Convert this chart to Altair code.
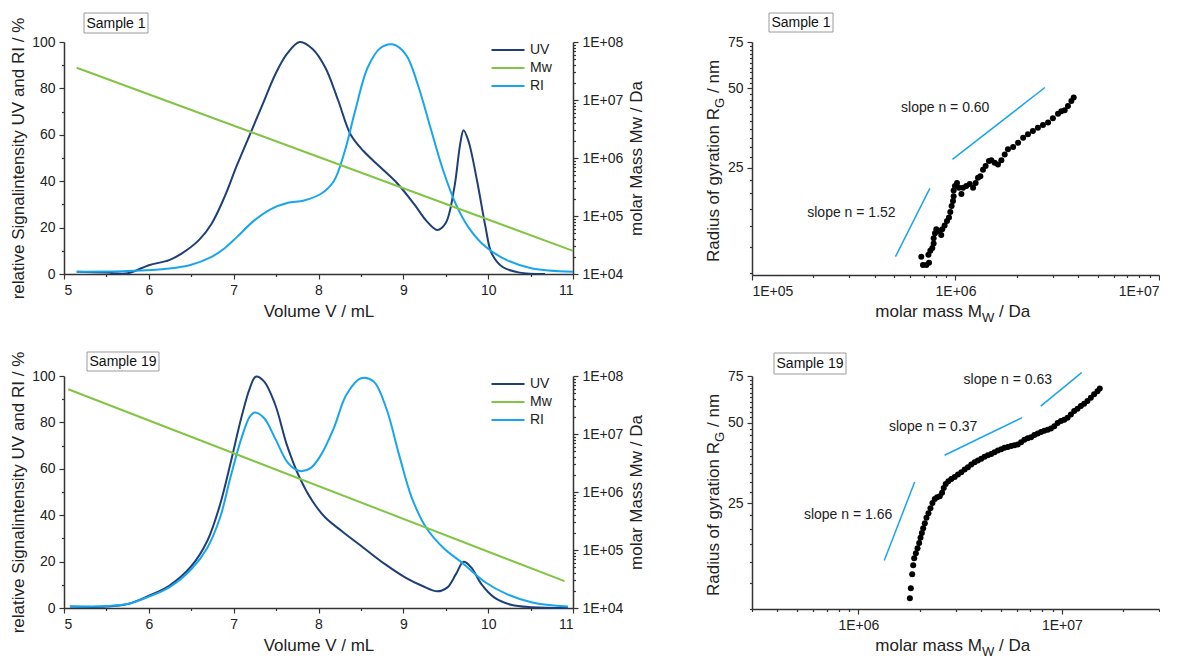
import altair as alt
import pandas as pd

FONT = "Liberation Sans"
UV_C = "#1E3F78"
MW_C = "#80C545"
RI_C = "#19A5EC"
SERIES = ["UV", "Mw", "RI"]
SERIES_COLORS = [UV_C, MW_C, RI_C]

# ---------------- Sample 1 chromatogram ----------------
s1_uv_vol = [5.15, 5.5, 5.75, 6.0, 6.24, 6.39, 6.59, 6.74, 6.89, 7.04, 7.19, 7.34, 7.49, 7.63, 7.78,
             7.93, 8.08, 8.23, 8.38, 8.53, 8.73, 8.93, 9.13, 9.27, 9.40, 9.50, 9.60, 9.67, 9.71, 9.77,
             9.87, 9.97, 10.04, 10.17, 10.37, 10.67]
s1_uv_val = [1.0, 0.6, 0.3, 3.8, 6.0, 8.9, 14.6, 21.7, 33.0, 47.0, 60.0, 73.0, 86.0, 95.0, 100.0,
             97.0, 89.0, 75.0, 60.0, 53.0, 46.0, 39.0, 30.0, 23.0, 19.0, 22.0, 37.0, 56.0, 62.0, 57.0,
             40.0, 20.0, 9.0, 3.0, 0.6, 0.0]
s1_ri_vol = [5.15, 5.75, 6.24, 6.49, 6.74, 6.89, 7.04, 7.24, 7.44, 7.63, 7.83, 8.03, 8.18, 8.31, 8.43,
             8.58, 8.73, 8.87, 9.03, 9.17, 9.32, 9.47, 9.62, 9.77, 9.97, 10.22, 10.52, 11.0]
s1_ri_val = [1.0, 1.3, 2.4, 3.9, 7.4, 11.0, 16.0, 23.0, 28.0, 30.6, 31.7, 34.6, 40.0, 53.0, 70.0,
             89.0, 97.4, 99.0, 94.6, 81.7, 63.0, 44.6, 30.0, 20.0, 11.7, 6.0, 2.4, 1.0]
s1_mw_vol = [5.15, 11.0]
s1_mw_val = [3.6e7, 2.5e4]

# ---------------- Sample 19 chromatogram ----------------
s19_uv_vol = [5.07, 5.5, 5.75, 6.0, 6.24, 6.5, 6.69, 6.84, 6.96, 7.09, 7.19, 7.26, 7.36, 7.49, 7.63,
              7.78, 7.93, 8.08, 8.28, 8.53, 8.78, 9.03, 9.22, 9.40, 9.52, 9.62, 9.71, 9.80, 9.92, 10.07,
              10.27, 10.52, 10.94]
s19_uv_val = [0.6, 0.6, 1.7, 5.3, 9.6, 18.0, 29.0, 44.6, 62.0, 82.0, 94.7, 99.7, 97.6, 87.6, 70.0,
              56.0, 46.0, 39.0, 33.0, 26.0, 19.0, 13.0, 9.6, 7.2, 8.9, 14.6, 19.9, 17.5, 10.3, 4.6,
              1.4, 0.3, 0.0]
s19_ri_vol = [5.07, 5.5, 5.75, 6.0, 6.24, 6.5, 6.69, 6.84, 6.96, 7.09, 7.19, 7.25, 7.36, 7.49, 7.63,
              7.73, 7.81, 7.91, 8.03, 8.18, 8.33, 8.50, 8.65, 8.80, 8.95, 9.10, 9.27, 9.47, 9.71, 9.97,
              10.22, 10.52, 10.94]
s19_ri_val = [0.6, 0.9, 1.7, 4.9, 8.9, 16.7, 26.0, 39.0, 56.0, 73.0, 82.5, 84.3, 81.8, 73.0, 63.0,
              59.7, 59.0, 60.4, 66.0, 77.5, 92.0, 99.0, 97.6, 86.0, 66.0, 47.5, 34.6, 26.0, 19.0, 11.0,
              6.0, 2.4, 0.6]
s19_mw_vol = [5.05, 10.9]
s19_mw_val = [5.9e7, 2.9e4]

# ---------------- Conformation plots (Rg vs Mw) ----------------
s1_pts_mw = [6.79e5, 6.92e5, 7.19e5, 7.41e5, 7.36e5, 7.52e5, 7.69e5, 7.81e5, 7.81e5, 7.93e5, 8.05e5,
             8.29e5, 8.51e5, 8.61e5, 8.84e5, 9.08e5, 9.29e5, 9.43e5, 9.57e5, 9.72e5, 9.79e5, 9.79e5,
             9.94e5, 1.017e6, 1.040e6, 1.069e6, 1.089e6, 1.13e6, 1.175e6, 1.22e6, 1.256e6, 1.29e6,
             1.325e6, 1.365e6, 1.406e6, 1.46e6, 1.50e6, 1.557e6, 1.617e6, 1.68e6, 1.745e6, 1.81e6,
             1.92e6, 2.03e6, 2.15e6, 2.27e6, 2.40e6, 2.54e6, 2.69e6, 2.85e6, 3.01e6, 3.19e6, 3.31e6,
             3.44e6, 3.57e6, 3.71e6, 3.81e6]
s1_pts_rg = [11.5, 10.7, 10.7, 10.9, 11.7, 12.1, 12.4, 12.9, 13.5, 14.1, 14.6,
             14.4, 13.9, 14.6, 15.1, 15.7, 16.2, 17.0, 17.9, 18.7, 19.5, 20.5,
             21.3, 21.9, 21.0, 19.9, 21.0, 21.3, 21.7, 21.0, 21.9, 22.9,
             23.2, 24.6, 25.4, 26.5, 26.7, 26.1, 25.7, 26.7, 28.1, 29.4,
             30.0, 31.1, 32.5, 33.5, 34.5, 35.5, 36.3, 37.1, 38.5, 40.1, 41.0,
             41.3, 42.9, 44.8, 46.2]
s1_slope_seg = ["a", "a", "b", "b"]
s1_slope_mw = [5.07e5, 7.48e5, 9.66e5, 2.75e6]
s1_slope_rg = [11.5, 20.9, 26.9, 50.4]
s1_note_text = ["slope n = 0.60", "slope n = 1.52"]
s1_note_mw = [8.9e5, 3.08e5]
s1_note_rg = [42.0, 16.8]

s19_pts_mw = [1.790e6, 1.810e6, 1.838e6, 1.859e6, 1.880e6, 1.916e6, 1.952e6, 1.989e6, 2.019e6, 2.050e6,
              2.081e6, 2.120e6, 2.160e6, 2.209e6, 2.259e6, 2.311e6, 2.372e6, 2.436e6, 2.510e6, 2.577e6,
              2.626e6, 2.685e6, 2.767e6, 2.862e6, 2.972e6, 3.085e6, 3.204e6, 3.327e6, 3.454e6, 3.586e6,
              3.724e6, 3.866e6, 4.014e6, 4.168e6, 4.328e6, 4.493e6, 4.665e6, 4.844e6, 5.029e6, 5.222e6,
              5.422e6, 5.629e6, 5.845e6, 6.068e6, 6.301e6, 6.542e6, 6.792e6, 7.052e6, 7.322e6, 7.602e6,
              7.893e6, 8.195e6, 8.509e6, 8.836e6, 9.174e6, 9.524e6, 9.888e6, 1.027e7, 1.066e7, 1.107e7,
              1.149e7, 1.193e7, 1.239e7, 1.286e7, 1.335e7, 1.387e7, 1.440e7, 1.495e7, 1.535e7]
s19_pts_rg = [10.97, 11.97, 13.5, 14.6, 15.5, 16.2, 16.9, 17.7, 18.5, 19.3,
              20.1, 21.0, 22.0, 22.9, 23.9, 25.0, 25.9, 26.3, 26.5, 27.3,
              28.5, 29.5, 30.2, 30.8, 31.3, 32.0, 32.6, 33.4, 34.1, 34.9,
              35.6, 36.1, 36.7, 37.3, 37.8, 38.2, 38.8, 39.4, 39.8, 40.3,
              40.6, 40.9, 41.2, 41.5, 42.3, 43.2, 43.8, 44.2, 45.0, 45.6,
              46.2, 46.7, 47.1, 47.6, 48.6, 49.9, 50.8, 51.4, 52.3, 53.8,
              55.4, 56.5, 57.8, 59.0, 60.4, 62.1, 64.0, 65.8, 67.3]
s19_slope_seg = ["a", "a", "b", "b", "c", "c"]
s19_slope_mw = [1.34e6, 1.89e6, 2.65e6, 6.37e6, 7.87e6, 1.25e7]
s19_slope_rg = [15.2, 30.0, 37.8, 52.3, 57.8, 77.2]
s19_note_text = ["slope n = 0.63", "slope n = 0.37", "slope n = 1.66"]
s19_note_mw = [5.42e6, 2.33e6, 8.9e5]
s19_note_rg = [72.2, 48.2, 22.6]

# ---------------- axis tick values ----------------
vol_ticks = [5, 5.5, 6, 6.5, 7, 7.5, 8, 8.5, 9, 9.5, 10, 10.5, 11]
pct_ticks = [0, 10, 20, 30, 40, 50, 60, 70, 80, 90, 100]
mw_axis_ticks = [1e4, 2e4, 3e4, 4e4, 5e4, 6e4, 7e4, 8e4, 9e4,
                 1e5, 2e5, 3e5, 4e5, 5e5, 6e5, 7e5, 8e5, 9e5,
                 1e6, 2e6, 3e6, 4e6, 5e6, 6e6, 7e6, 8e6, 9e6,
                 1e7, 2e7, 3e7, 4e7, 5e7, 6e7, 7e7, 8e7, 9e7, 1e8]
rg_ticks = [10, 12.5, 15, 17.5, 20, 22.5, 25, 27.5, 30, 32.5, 35, 37.5, 40, 42.5, 45, 47.5, 50,
            52.5, 55, 57.5, 60, 62.5, 65, 67.5, 70, 72.5, 75]
top_mw_ticks = [1e5, 2e5, 3e5, 4e5, 5e5, 6e5, 7e5, 8e5, 9e5, 1e6, 2e6, 3e6, 4e6, 5e6, 6e6, 7e6,
                8e6, 9e6, 1e7]
bot_mw_ticks = [3e5, 4e5, 5e5, 6e5, 7e5, 8e5, 9e5, 1e6, 2e6, 3e6, 4e6, 5e6, 6e6, 7e6, 8e6, 9e6,
                1e7, 2e7, 3e7]

IS_DECADE = "abs(log(datum.value)/LN10 - round(log(datum.value)/LN10)) < 0.000001"
DECADE_LABEL = "(" + IS_DECADE + ") ? ('1E+0' + round(log(datum.value)/LN10)) : ''"

LW, LH = 509, 232
RW, RH = 407, 233


def tick_size(test):
    return {"condition": {"test": test, "value": 5}, "value": 2.5}


def label_box(text, x1, x2, y1, y2):
    df = pd.DataFrame({"t": [text]})
    rect = alt.Chart(df).mark_rect(fill="white", stroke="#9a9a9a", strokeWidth=1).encode(
        x=alt.value(x1), x2=alt.value(x2), y=alt.value(y1), y2=alt.value(y2))
    txt = alt.Chart(df).mark_text(font=FONT, fontSize=14, color="#111", baseline="middle").encode(
        x=alt.value((x1 + x2) / 2), y=alt.value((y1 + y2) / 2 + 0.5), text="t:N")
    return [rect, txt]


def chrom_panel(uv_vol, uv_val, ri_vol, ri_val, mw_vol, mw_val, label, box):
    sig_df = pd.DataFrame({
        "vol": uv_vol + ri_vol,
        "val": uv_val + ri_val,
        "series": ["UV"] * len(uv_vol) + ["RI"] * len(ri_vol),
    })
    mw_df = pd.DataFrame({"vol": mw_vol, "mw": mw_val, "series": ["Mw"] * len(mw_vol)})
    x_axis = alt.Axis(values=vol_ticks, labelExpr="datum.value % 1 === 0 ? format(datum.value, 'd') : ''",
                      tickSize=tick_size("datum.value % 1 === 0"), labelPadding=4,
                      title="Volume V / mL", titlePadding=6)
    x_enc = alt.X("vol:Q", scale=alt.Scale(domain=[5, 11], nice=False, zero=False), axis=x_axis)
    color = alt.Color("series:N", scale=alt.Scale(domain=SERIES, range=SERIES_COLORS),
                      legend=alt.Legend(orient="none", legendX=426, legendY=0, title=None,
                                        symbolType="stroke", symbolSize=1089, symbolStrokeWidth=2.2,
                                        clipHeight=16, rowPadding=2, labelOffset=4,
                                        labelFontSize=14, labelFont=FONT, labelColor="#222"))
    sig = alt.Chart(sig_df).mark_line(strokeWidth=2, interpolate="catmull-rom").encode(
        x=x_enc,
        y=alt.Y("val:Q", scale=alt.Scale(domain=[0, 100], nice=False),
                axis=alt.Axis(values=pct_ticks, labelExpr="datum.value % 20 === 0 ? datum.label : ''",
                              tickSize=tick_size("datum.value % 20 === 0"), labelPadding=4,
                              title="relative Signalintensity UV and RI / %", titlePadding=4)),
        color=color,
    )
    mw = alt.Chart(mw_df).mark_line(strokeWidth=2).encode(
        x=x_enc,
        y=alt.Y("mw:Q", scale=alt.Scale(type="log", domain=[1e4, 1e8], nice=False),
                axis=alt.Axis(orient="right", values=mw_axis_ticks, labelExpr=DECADE_LABEL,
                              tickSize=tick_size(IS_DECADE), labelPadding=4,
                              title="molar Mass Mw / Da", titleAngle=270, titleBaseline="top",
                              titlePadding=6)),
        color=color,
    )
    layers = [sig, mw] + label_box(label, *box)
    return alt.layer(*layers).resolve_scale(y="independent").properties(width=LW, height=LH)


def conf_panel(pts_mw, pts_rg, seg, sl_mw, sl_rg, note_text, note_mw, note_rg,
               x_dom, x_ticks, y_dom, label, box):
    pts_df = pd.DataFrame({"mw": pts_mw, "rg": pts_rg})
    sl_df = pd.DataFrame({"seg": seg, "mw": sl_mw, "rg": sl_rg})
    nt_df = pd.DataFrame({"label": note_text, "mw": note_mw, "rg": note_rg})
    x_enc = alt.X("mw:Q", scale=alt.Scale(type="log", domain=x_dom, nice=False),
                  axis=alt.Axis(values=x_ticks, labelExpr=DECADE_LABEL, tickSize=tick_size(IS_DECADE),
                                labelPadding=4, title=None))
    y_enc = alt.Y("rg:Q", scale=alt.Scale(type="log", domain=y_dom, nice=False),
                  axis=alt.Axis(values=rg_ticks, labelExpr="datum.value % 25 === 0 ? datum.label : ''",
                                tickSize=tick_size("datum.value % 25 === 0"), labelPadding=4,
                                title=None))
    pts = alt.Chart(pts_df).mark_circle(size=36, color="black", opacity=1).encode(x=x_enc, y=y_enc)
    sl = alt.Chart(sl_df).mark_line(color=RI_C, strokeWidth=1.5).encode(x=x_enc, y=y_enc, detail="seg:N")
    nt = alt.Chart(nt_df).mark_text(font=FONT, fontSize=14, color="#222").encode(
        x=x_enc, y=y_enc, text="label:N")
    tdf = pd.DataFrame({"a": ["molar mass M"], "b": ["W"], "c": ["/ Da"],
                        "d": ["Radius of gyration R"], "e": ["G"], "f": ["/ nm"]})
    xt_x, xt_y = 230, RH + 42
    yt_x, yt_y = -33, 66
    titles = [
        alt.Chart(tdf).mark_text(font=FONT, fontSize=17, align="right", baseline="alphabetic",
                                 color="#222").encode(x=alt.value(xt_x), y=alt.value(xt_y), text="a:N"),
        alt.Chart(tdf).mark_text(font=FONT, fontSize=13, align="left", baseline="alphabetic", dy=5,
                                 color="#222").encode(x=alt.value(xt_x), y=alt.value(xt_y), text="b:N"),
        alt.Chart(tdf).mark_text(font=FONT, fontSize=17, align="left", baseline="alphabetic", dx=17,
                                 color="#222").encode(x=alt.value(xt_x), y=alt.value(xt_y), text="c:N"),
        alt.Chart(tdf).mark_text(font=FONT, fontSize=17, align="right", baseline="alphabetic", angle=270,
                                 color="#222").encode(x=alt.value(yt_x), y=alt.value(yt_y), text="d:N"),
        alt.Chart(tdf).mark_text(font=FONT, fontSize=13, align="left", baseline="alphabetic", angle=270,
                                 dy=5, color="#222").encode(x=alt.value(yt_x), y=alt.value(yt_y), text="e:N"),
        alt.Chart(tdf).mark_text(font=FONT, fontSize=17, align="left", baseline="alphabetic", angle=270,
                                 dx=15, color="#222").encode(x=alt.value(yt_x), y=alt.value(yt_y), text="f:N"),
    ]
    layers = [sl, pts, nt] + titles + label_box(label, *box)
    return alt.layer(*layers).properties(width=RW, height=RH)


left1 = chrom_panel(s1_uv_vol, s1_uv_val, s1_ri_vol, s1_ri_val, s1_mw_vol, s1_mw_val,
                    "Sample 1", (20, 84, -29, -9))
left2 = chrom_panel(s19_uv_vol, s19_uv_val, s19_ri_vol, s19_ri_val, s19_mw_vol, s19_mw_val,
                    "Sample 19", (23, 95, -24, -5))
right1 = conf_panel(s1_pts_mw, s1_pts_rg, s1_slope_seg, s1_slope_mw, s1_slope_rg,
                    s1_note_text, s1_note_mw, s1_note_rg, [1e5, 1e7], top_mw_ticks, [9.8, 75],
                    "Sample 1", (17, 81, -29, -10))
right2 = conf_panel(s19_pts_mw, s19_pts_rg, s19_slope_seg, s19_slope_mw, s19_slope_rg,
                    s19_note_text, s19_note_mw, s19_note_rg, [3e5, 3e7], bot_mw_ticks, [10, 75],
                    "Sample 19", (22, 94, -23, -2))

row1 = alt.hconcat(left1, right1, spacing=60).resolve_scale(color="independent")
row2 = alt.hconcat(left2, right2, spacing=60).resolve_scale(color="independent")

chart = (
    alt.vconcat(row1, row2, spacing=26)
    .resolve_scale(color="independent")
    .properties(padding={"left": 9, "top": 12, "right": 0, "bottom": 0}, background="white")
    .configure(font=FONT)
    .configure_view(stroke=None)
    .configure_axis(labelFont=FONT, titleFont=FONT, labelFontSize=14, titleFontSize=17,
                    titleFontWeight="normal", labelColor="#222", titleColor="#222",
                    domainColor="#333", tickColor="#333", domainWidth=1.5, tickWidth=1.2,
                    grid=False)
)

chart.save("out.html", embed_options={"renderer": "svg", "actions": False})
